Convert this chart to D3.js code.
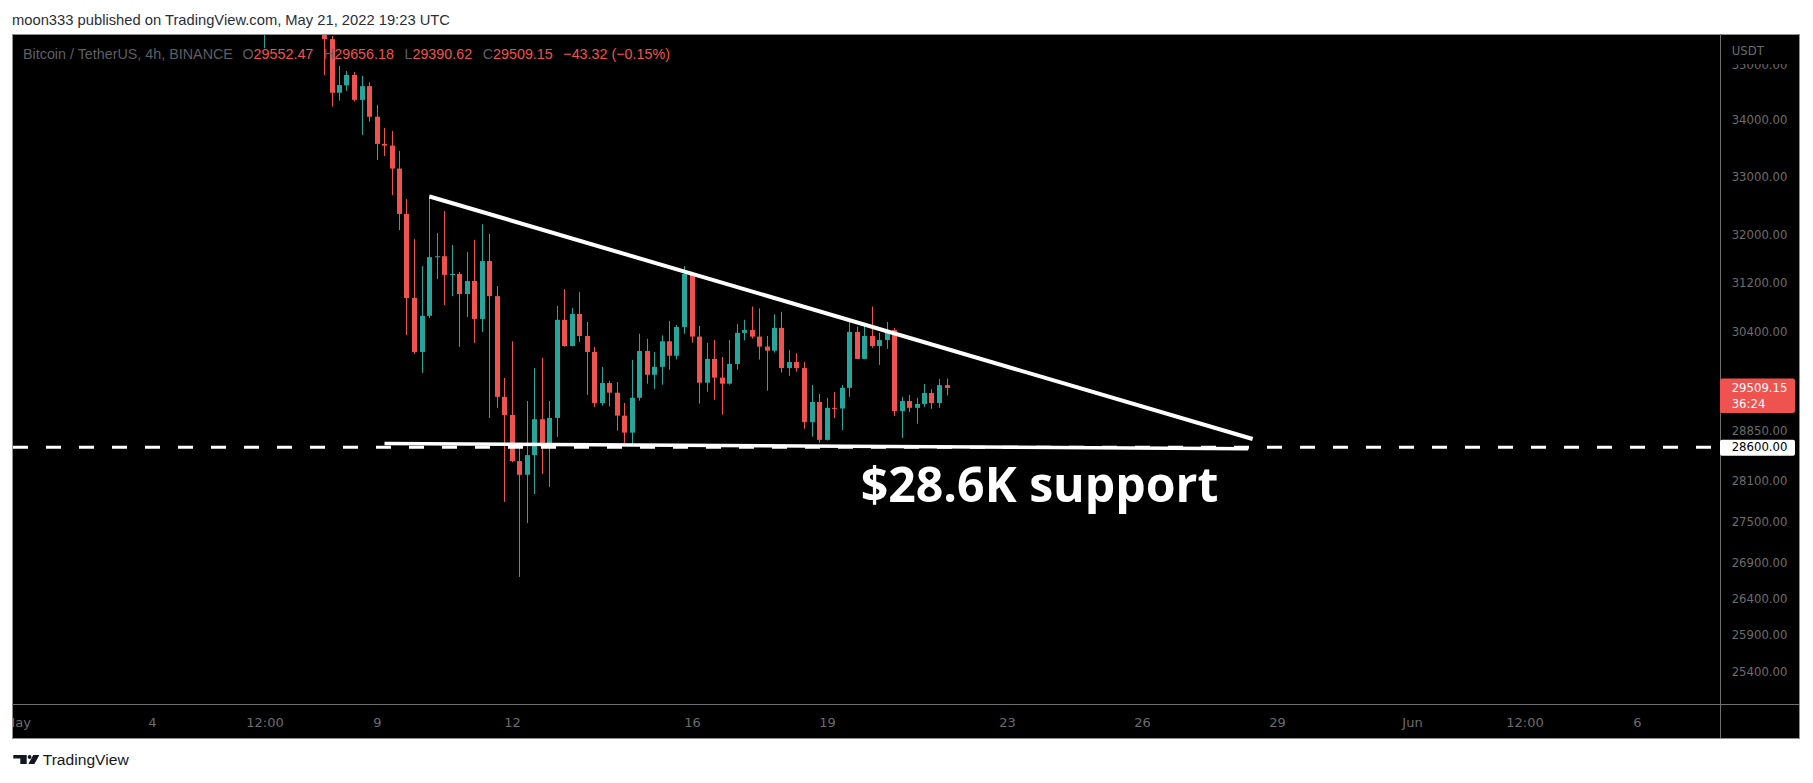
<!DOCTYPE html>
<html><head><meta charset="utf-8">
<script src="https://cdn.jsdelivr.net/npm/d3@7"></script>
<style>html,body{margin:0;padding:0;background:#fff;overflow:hidden}svg{display:block}</style>
</head><body>
<svg id="chart" width="1813" height="783"></svg>
<script>
// ---------- DATA ----------
const times = [
"2022-05-06T12:00Z",
"2022-05-07T20:00Z",
"2022-05-08T00:00Z","2022-05-08T04:00Z","2022-05-08T08:00Z","2022-05-08T12:00Z","2022-05-08T16:00Z","2022-05-08T20:00Z",
"2022-05-09T00:00Z","2022-05-09T04:00Z","2022-05-09T08:00Z","2022-05-09T12:00Z","2022-05-09T16:00Z","2022-05-09T20:00Z",
"2022-05-10T00:00Z","2022-05-10T04:00Z","2022-05-10T08:00Z","2022-05-10T12:00Z","2022-05-10T16:00Z","2022-05-10T20:00Z",
"2022-05-11T00:00Z","2022-05-11T04:00Z","2022-05-11T08:00Z","2022-05-11T12:00Z","2022-05-11T16:00Z","2022-05-11T20:00Z",
"2022-05-12T00:00Z","2022-05-12T04:00Z","2022-05-12T08:00Z","2022-05-12T12:00Z","2022-05-12T16:00Z","2022-05-12T20:00Z",
"2022-05-13T00:00Z","2022-05-13T04:00Z","2022-05-13T08:00Z","2022-05-13T12:00Z","2022-05-13T16:00Z","2022-05-13T20:00Z",
"2022-05-14T00:00Z","2022-05-14T04:00Z","2022-05-14T08:00Z","2022-05-14T12:00Z","2022-05-14T16:00Z","2022-05-14T20:00Z",
"2022-05-15T00:00Z","2022-05-15T04:00Z","2022-05-15T08:00Z","2022-05-15T12:00Z","2022-05-15T16:00Z","2022-05-15T20:00Z",
"2022-05-16T00:00Z","2022-05-16T04:00Z","2022-05-16T08:00Z","2022-05-16T12:00Z","2022-05-16T16:00Z","2022-05-16T20:00Z",
"2022-05-17T00:00Z","2022-05-17T04:00Z","2022-05-17T08:00Z","2022-05-17T12:00Z","2022-05-17T16:00Z","2022-05-17T20:00Z",
"2022-05-18T00:00Z","2022-05-18T04:00Z","2022-05-18T08:00Z","2022-05-18T12:00Z","2022-05-18T16:00Z","2022-05-18T20:00Z",
"2022-05-19T00:00Z","2022-05-19T04:00Z","2022-05-19T08:00Z","2022-05-19T12:00Z","2022-05-19T16:00Z","2022-05-19T20:00Z",
"2022-05-20T00:00Z","2022-05-20T04:00Z","2022-05-20T08:00Z","2022-05-20T12:00Z","2022-05-20T16:00Z","2022-05-20T20:00Z",
"2022-05-21T00:00Z","2022-05-21T04:00Z","2022-05-21T08:00Z","2022-05-21T12:00Z","2022-05-21T16:00Z"
];
const opens = [35650,35700,
35480,34490,34625,34815,34360,34610,
34055,33570,33540,33135,32350,30945,
30075,30655,31620,31635,31325,31340,
31010,31225,30605,31555,30975,29370,
29090,28390,28185,28480,29025,28630,
29045,30590,30170,30685,30330,30075,
29275,29585,29435,29080,28820,29355,
30090,29715,29840,30245,30015,30475,
31340,30320,29590,29965,29670,29575,
29885,30380,30425,30320,30160,30095,
30460,29820,29915,29820,28980,29290,
28710,29200,29190,29510,30395,29965,
30330,30170,30265,30425,29150,29305,
29200,29260,29430,29275,29552.47];
const highs = [36150,35800,
35540,34980,34890,34870,34800,34680,
34270,33855,33800,33445,32605,31925,
31470,32680,32025,32400,31825,31375,
31705,31910,32175,32010,31140,29665,
30245,28645,29305,29820,29980,29305,
30815,31090,30780,31040,30555,30155,
29840,29620,29600,29275,29950,30365,
30285,30075,30340,30570,30505,31470,
31345,30490,30220,30265,29995,30265,
30525,30590,30805,30775,30330,30680,
30720,30105,30055,29915,29555,29415,
29355,29445,29555,30555,30480,30505,
30805,30380,30555,30460,29370,29400,
29355,29570,29490,29650,29656.18];
const lows = [35310,34815,
34240,34345,34525,34330,33730,33965,
33285,33355,32675,32075,30345,30045,
29745,30620,31255,30830,30975,30155,
30635,30220,30395,29045,29200,27785,
28375,26705,27475,27900,28200,28005,
28755,30160,30165,30235,29400,29215,
29235,29220,28850,28665,28635,29310,
29575,29495,29560,29795,29955,30365,
30225,29265,29450,29325,29095,29560,
29795,30260,30290,29955,29465,30065,
29750,29695,29765,28880,28760,28665,
28700,29045,28860,29370,29960,29960,
30140,29870,30125,29075,28740,29135,
28955,29215,29185,29200,29390.62];
const closes = [36000,35480,
34490,34630,34815,34360,34610,34055,
33570,33540,33135,32350,30945,30075,
30655,31620,31635,31325,31340,31010,
31225,30605,31555,30975,29370,29090,
28390,28185,28480,29025,28630,29045,
30590,30170,30685,30330,30075,29275,
29585,29435,29080,28820,29355,30090,
29715,29840,30245,30015,30475,31340,
30320,29590,29965,29670,29575,29885,
30380,30425,30320,30160,30095,30460,
29820,29915,29820,28980,29290,28710,
29200,29190,29510,30395,29965,30330,
30170,30265,30425,29150,29305,29200,
29260,29430,29275,29552.47,29509.15];

const priceTicks = [35000,34000,33000,32000,31200,30400,29600,28850,28100,27500,26900,26400,25900,25400];
const timeTickDates = ["2022-05-01T00:00Z","2022-05-04T00:00Z","2022-05-06T12:00Z","2022-05-09T00:00Z","2022-05-12T00:00Z",
  "2022-05-16T00:00Z","2022-05-19T00:00Z","2022-05-23T00:00Z","2022-05-26T00:00Z","2022-05-29T00:00Z",
  "2022-06-01T00:00Z","2022-06-03T12:00Z","2022-06-06T00:00Z"];
const timeTickLabels = ["May","4","12:00","9","12","16","19","23","26","29","Jun","12:00","6"];

const lastPrice = 29509.15;
const countdown = "36:24";
const supportPrice = 28600;
const upperTrend = [["2022-05-10T04:00Z", 32650], ["2022-05-28T11:00Z", 28723]];
const lowerTrend = [["2022-05-09T04:00Z", 28655], ["2022-05-28T08:40Z", 28576]];
const legendTitle = "Bitcoin / TetherUS, 4h, BINANCE";
const legendOHLC = [["O","29552.47"],["H","29656.18"],["L","29390.62"],["C","29509.15"]];
const legendChange = "\u221243.32 (\u22120.15%)";
const headerText = "moon333 published on TradingView.com, May 21, 2022 19:23 UTC";
const annotation = "$28.6K support";

// ---------- LAYOUT ----------
const P = {l:12, r:1720, t:34, b:704, fr:1799, fb:738};
const UP = "#26a69a", DOWN = "#ef5350";
const svg = d3.select("#chart");

const x = d3.scaleUtc().domain([new Date("2022-05-01T00:00Z"), new Date("2022-06-06T00:00Z")]).range([17, 1637]);
const y = d3.scaleLog().domain([25400, 34000]).range([671.7, 119.8]);

const defs = svg.append("defs");
defs.append("clipPath").attr("id","pane").append("rect")
  .attr("x",P.l+1).attr("y",P.t+1).attr("width",P.r-P.l-1).attr("height",P.b-P.t-1);
defs.append("clipPath").attr("id","taxis").append("rect")
  .attr("x",P.l+1).attr("y",P.b+1).attr("width",P.r-P.l-1).attr("height",P.fb-P.b-1);

// frame
svg.append("rect").attr("x",P.l+0.5).attr("y",P.t+0.5).attr("width",P.fr-P.l).attr("height",P.fb-P.t)
  .attr("fill","#000").attr("stroke","#8f8f8f").attr("stroke-width",1);
svg.append("line").attr("x1",P.r+0.5).attr("x2",P.r+0.5).attr("y1",P.t).attr("y2",P.fb).attr("stroke","#6f6f6f");
svg.append("line").attr("x1",P.l).attr("x2",P.fr).attr("y1",P.b+0.5).attr("y2",P.b+0.5).attr("stroke","#6f6f6f");

// candles
const candles = times.map((t,i)=>({t:new Date(t), o:opens[i], h:highs[i], l:lows[i], c:closes[i]}));
const g = svg.append("g").attr("clip-path","url(#pane)");
const cg = g.selectAll("g.c").data(candles).join("g")
  .attr("fill", d => d.c >= d.o ? UP : DOWN);
cg.append("rect")
  .attr("x", d => Math.floor(x(d.t)))
  .attr("width", 1)
  .attr("y", d => y(d.h))
  .attr("height", d => Math.max(1, y(d.l) - y(d.h)));
cg.append("rect")
  .attr("x", d => Math.floor(x(d.t)) - 2)
  .attr("width", 5)
  .attr("y", d => y(Math.max(d.o, d.c)))
  .attr("height", d => Math.max(1, y(Math.min(d.o, d.c)) - y(Math.max(d.o, d.c))));

// support dashed line
g.append("line").attr("x1",P.l+1).attr("x2",P.r).attr("y1",y(supportPrice)).attr("y2",y(supportPrice))
  .attr("stroke","#fff").attr("stroke-width",3).attr("stroke-dasharray","15,18");

// trend lines
const line = d3.line().x(d=>x(new Date(d[0]))).y(d=>y(d[1]));
g.append("path").attr("d", line(upperTrend)).attr("stroke","#fff").attr("stroke-width",4).attr("fill","none");
g.append("path").attr("d", line(lowerTrend)).attr("stroke","#fff").attr("stroke-width",3.5).attr("fill","none");

// annotation
g.append("text").attr("x",860.7).attr("y",502.3).text(annotation)
  .attr("fill","#fff").attr("font-family","'Open Sans', 'Noto Sans', sans-serif").attr("font-weight","bold")
  .attr("font-size",48.2);

// legend
const lg = svg.append("text").attr("x",23).attr("y",59)
  .attr("font-family","'Liberation Sans', Arial, sans-serif").attr("font-size",15)
  .attr("textLength",647).attr("lengthAdjust","spacingAndGlyphs");
lg.append("tspan").attr("fill","#5d5f66").text(legendTitle);
legendOHLC.forEach((p,i)=>{
  lg.append("tspan").attr("fill","#5d5f66").attr("dx", i===0 ? 10 : 11).text(p[0]);
  lg.append("tspan").attr("fill",DOWN).text(p[1]);
});
lg.append("tspan").attr("fill",DOWN).attr("dx",11).text(legendChange);

// price axis (labels hidden where the price-label boxes cover them, as TradingView does)
const yl = y(lastPrice), ys = y(supportPrice);
const ya = svg.append("g").attr("transform",`translate(${P.r},0)`)
  .call(d3.axisRight(y).tickValues(priceTicks).tickFormat(d=>d.toFixed(2)).tickSize(0).tickPadding(11.7));
ya.select(".domain").remove();
ya.selectAll("text").attr("fill","#6c6c6c").attr("font-family","'DejaVu Sans', sans-serif").attr("font-size",11.7);
ya.selectAll(".tick").filter(d => { const v = y(d); return (v > yl - 16 && v < yl + 30) || Math.abs(v - ys) < 12; }).remove();

svg.append("rect").attr("x",P.r+1).attr("y",P.t+1).attr("width",P.fr-P.r-2).attr("height",29).attr("fill","#000");
svg.append("text").attr("x",P.r+11.7).attr("y",51).attr("dy","0.32em").text("USDT")
  .attr("fill","#6c6c6c").attr("font-family","'DejaVu Sans', sans-serif").attr("font-size",11.7);

// last price label
svg.append("rect").attr("x",P.r).attr("y",yl-9.5).attr("width",75).attr("height",34.5).attr("rx",2).attr("fill",DOWN);
svg.append("text").attr("x",P.r+11.7).attr("y",yl+0.8).attr("dy","0.32em").text(lastPrice.toFixed(2))
  .attr("fill","#fff").attr("font-family","'DejaVu Sans', sans-serif").attr("font-size",11.7);
svg.append("text").attr("x",P.r+11.7).attr("y",yl+16.3).attr("dy","0.32em").text(countdown)
  .attr("fill","#fff").attr("font-family","'DejaVu Sans', sans-serif").attr("font-size",11.7);

// support price label
svg.append("rect").attr("x",P.r).attr("y",ys-7.5).attr("width",75).attr("height",16).attr("rx",2).attr("fill","#fff");
svg.append("text").attr("x",P.r+11.7).attr("y",ys+0.5).attr("dy","0.32em").text(supportPrice.toFixed(2))
  .attr("fill","#000").attr("font-family","'DejaVu Sans', sans-serif").attr("font-size",11.7);

// time axis
const xa = svg.append("g").attr("clip-path","url(#taxis)").append("g").attr("transform",`translate(0,${P.b})`)
  .call(d3.axisBottom(x).tickValues(timeTickDates.map(d=>new Date(d))).tickFormat((d,i)=>timeTickLabels[i]).tickSize(0).tickPadding(13.7));
xa.select(".domain").remove();
xa.selectAll("text").attr("fill","#6c6c6c").attr("font-family","'DejaVu Sans', sans-serif").attr("font-size",13);

// header
svg.append("text").attr("x",12).attr("y",25).text(headerText)
  .attr("fill","#2a2e39").attr("font-family","'Liberation Sans', Arial, sans-serif").attr("font-size",15)
  .attr("textLength",438).attr("lengthAdjust","spacingAndGlyphs");

// TradingView logo
const logo = svg.append("g").attr("fill","#131722");
logo.append("path").attr("d","M13.3,755 H26.7 V764 H20.3 V758.6 H13.3 Z");
logo.append("circle").attr("cx",29.6).attr("cy",757).attr("r",1.9);
logo.append("path").attr("d","M33.2,755 H39.4 L34.4,764 H28.4 Z");
svg.append("text").attr("x",42.7).attr("y",764.5).text("TradingView")
  .attr("fill","#131722").attr("font-family","'Liberation Sans', Arial, sans-serif").attr("font-size",14)
  .attr("textLength",86).attr("lengthAdjust","spacingAndGlyphs");
</script>
</body></html>
